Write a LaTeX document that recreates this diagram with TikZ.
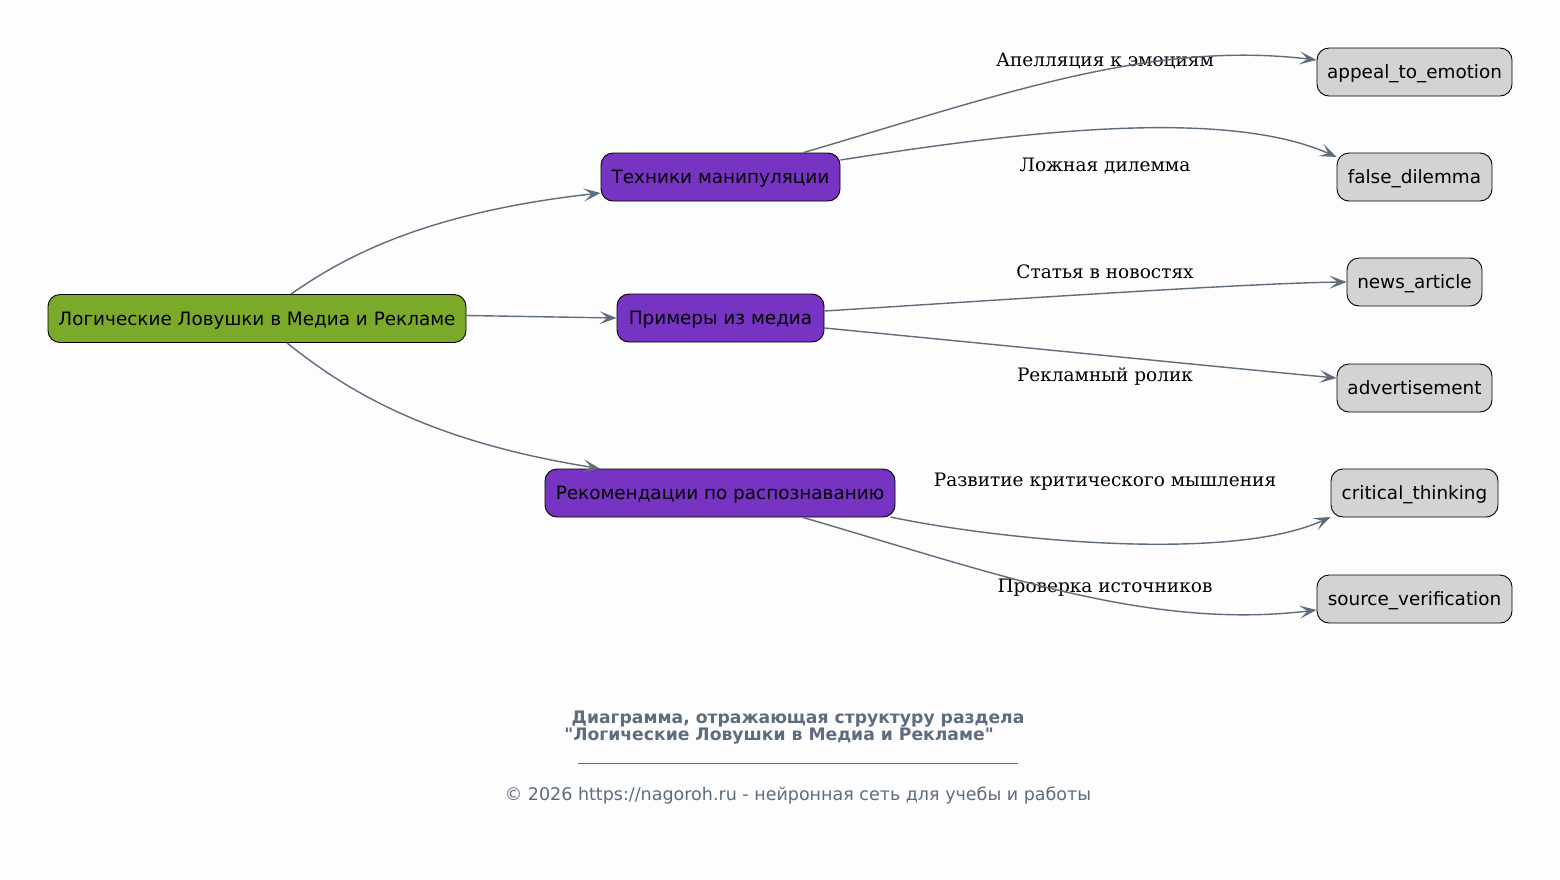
\documentclass[tikz,border=0pt]{standalone}
\usepackage{fontspec}
\setmainfont{DejaVu Serif}
\newfontfamily\dejavu{DejaVu Sans}
\usetikzlibrary{arrows.meta}
\definecolor{bg}{HTML}{FDFDFD}
\definecolor{edgec}{HTML}{5D6D7E}
\definecolor{rootc}{HTML}{7BAA2B}
\definecolor{midc}{HTML}{7733C2}
\definecolor{leafc}{HTML}{D3D3D3}
\tikzset{
  box/.style={draw=black, line width=0.9pt, rounded corners=12pt, minimum height=48pt, inner xsep=2pt, inner ysep=0pt, text height=17pt, text depth=4pt, font=\dejavu\fontsize{18.4}{21}\selectfont, text=black},
  rootbox/.style={box, fill=rootc},
  midbox/.style={box, fill=midc},
  leafbox/.style={box, fill=leafc},
  conn/.style={draw=edgec, line width=1.4pt, -{Stealth[length=17pt,width=13pt,inset=8pt]}},
  elabel/.style={font=\fontsize{18.5}{21}\selectfont, text=black, inner sep=0pt},
  foot/.style={font=\dejavu\fontsize{17.5}{20}\selectfont, text=edgec, inner sep=0pt},
  footb/.style={font=\dejavu\bfseries\fontsize{17.2}{20}\selectfont, text=edgec, inner sep=0pt}
}
\begin{document}
\begin{tikzpicture}[x=1pt,y=-1pt]
\fill[bg] (0,0) rectangle (1560,879);
\useasboundingbox (0,0) rectangle (1560,879);

\node[rootbox, minimum width=418pt] (root) at (257,318.5) {Логические Ловушки в Медиа и Рекламе};
\node[midbox, minimum width=239pt] (tech) at (720.5,177) {Техники манипуляции};
\node[midbox, minimum width=207pt] (ex) at (720.5,318) {Примеры из медиа};
\node[midbox, minimum width=350pt] (rec) at (720,493) {Рекомендации по распознаванию};

\node[leafbox, minimum width=195pt] (appeal) at (1414.5,72) {appeal\_to\_emotion};
\node[leafbox, minimum width=155pt] (fd) at (1414.5,177) {false\_dilemma};
\node[leafbox, minimum width=135pt] (news) at (1414.5,282) {news\_article};
\node[leafbox, minimum width=155pt] (adv) at (1414.5,388) {advertisement};
\node[leafbox, minimum width=167pt] (crit) at (1414.5,493) {critical\_thinking};
\node[leafbox, minimum width=195pt] (src) at (1414.5,599) {source\_verification};

\node[elabel] (l1) at (1105,61) {Апелляция к эмоциям};
\node[elabel] (l2) at (1105,166) {Ложная дилемма};
\node[elabel] (l3) at (1105,272) {Статья в новостях};
\node[elabel] (l4) at (1105,377) {Рекламный ролик};
\node[elabel] (l5) at (1105,482) {Развитие критического мышления};
\node[elabel] (l6) at (1105,588) {Проверка источников};

% root edges
\draw[conn] ([xshift=34pt]root.north) .. controls (340,260) and (420,213) .. ([yshift=-16pt]tech.west);
\draw[conn] ([yshift=3pt]root.east) -- (ex.west);
\draw[conn] ([xshift=30pt]root.south) .. controls (340,385) and (420,440) .. ([xshift=-120pt]rec.north);

% tech edges
\draw[conn] ([xshift=83pt]tech.north) .. controls (1000,95) and (1150,40) .. ([yshift=12pt]appeal.west);
\draw[conn] ([yshift=17pt]tech.east) .. controls (1000,135) and (1220,105) .. ([yshift=20pt]fd.west);

% ex edges
\draw[conn] ([yshift=7pt]ex.east) .. controls (1000,300) and (1250,283) .. (news.west);
\draw[conn] ([yshift=-10pt]ex.east) .. controls (1000,345) and (1250,370) .. ([yshift=10pt]adv.west);

% rec edges
\draw[conn] ([xshift=-5pt,yshift=-24pt]rec.east) .. controls (1000,540) and (1230,563) .. ([yshift=-24pt]crit.west);
\draw[conn] ([xshift=83pt]rec.south) .. controls (1000,575) and (1150,630) .. ([yshift=-11pt]src.west);

% footer
\node[footb] (t1) at (798,719) {Диаграмма, отражающая структуру раздела};
\node[footb] (t2) at (779,736) {"Логические Ловушки в Медиа и Рекламе"};
\draw[edgec, line width=0.8pt] (578,763) -- (1018,763);
\node[foot] (cr) at (798,796) {© 2026 https://nagoroh.ru - нейронная сеть для учебы и работы};
\end{tikzpicture}
\end{document}
